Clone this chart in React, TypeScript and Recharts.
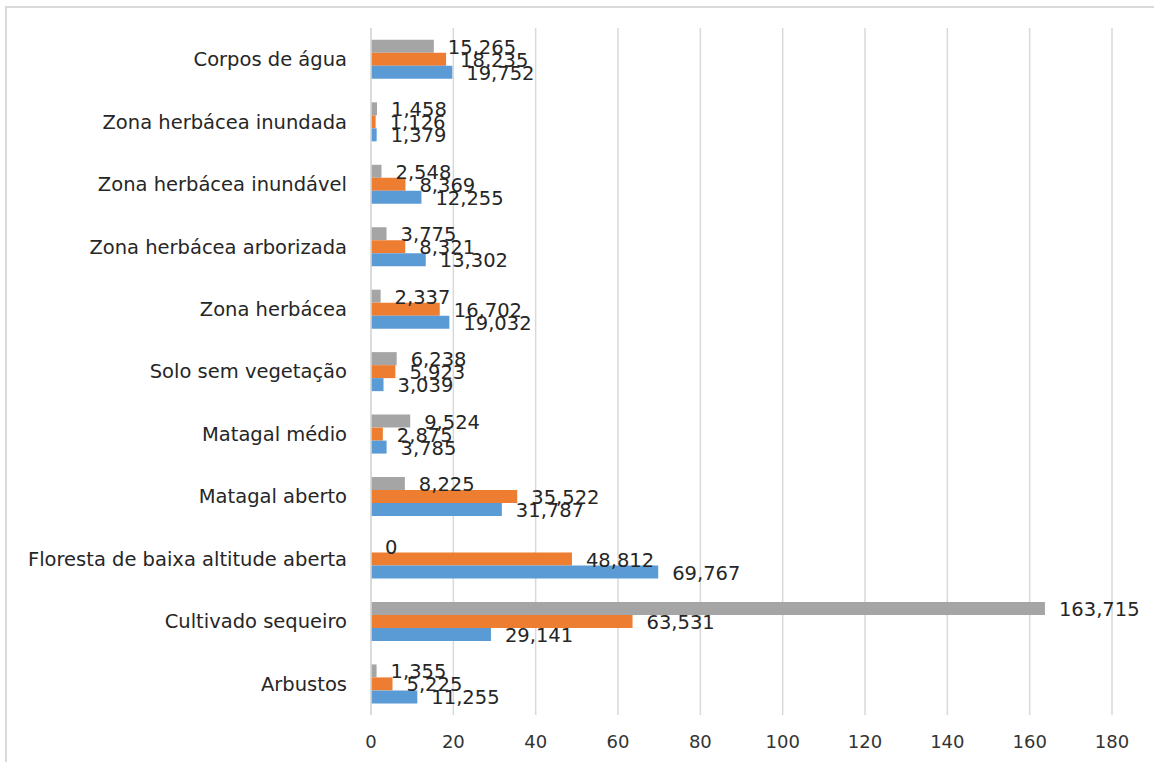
import React from 'react';
import { BarChart, Bar, XAxis, YAxis, CartesianGrid, LabelList } from 'recharts';

const categories = [
    'Corpos de água',
    'Zona herbácea inundada',
    'Zona herbácea inundável',
    'Zona herbácea arborizada',
    'Zona herbácea ',
    'Solo sem vegetação',
    'Matagal médio',
    'Matagal aberto',
    'Floresta de baixa altitude aberta',
    'Cultivado sequeiro',
    'Arbustos',
];

// three series, gray drawn on top of each group, blue at the bottom
const grayValues = [15.265, 1.458, 2.548, 3.775, 2.337, 6.238, 9.524, 8.225, 0, 163.715, 1.355];
const orangeValues = [18.235, 1.126, 8.369, 8.321, 16.702, 5.923, 2.875, 35.522, 48.812, 63.531, 5.225];
const blueValues = [19.752, 1.379, 12.255, 13.302, 19.032, 3.039, 3.785, 31.787, 69.767, 29.141, 11.255];

const xTicks = [0, 20, 40, 60, 80, 100, 120, 140, 160, 180];

const data = categories.map((name, i) => ({
    name,
    gray: grayValues[i],
    orange: orangeValues[i],
    blue: blueValues[i],
}));

const FONT = '"DejaVu Sans", sans-serif';

const fmt = (v: number) => (v === 0 ? '0' : v.toFixed(3).replace('.', ','));

const num = (v: any) => {
    const n = Number(v);
    return Number.isFinite(n) ? n : 0;
};

const ValueLabel = (props: any) => {
    const { x, y, width, height, value } = props;
    return (
        <text
            x={num(x) + num(width) + 14}
            y={num(y) + num(height) / 2 + 2}
            dominantBaseline="middle"
            fontFamily={FONT}
            fontSize={19.5}
            fill="#262626"
        >
            {fmt(num(value))}
        </text>
    );
};

const App = () => {
    return (
        <div style={{ position: 'absolute', left: 0, top: 0, width: 1154, height: 762, background: '#fff' }}>
            <div
                style={{
                    position: 'absolute',
                    left: 5,
                    top: 6,
                    width: 1160,
                    height: 770,
                    border: '2px solid #D9D9D9',
                    boxSizing: 'border-box',
                }}
            />
            <BarChart
                width={1154}
                height={762}
                data={data}
                layout="vertical"
                margin={{ top: 28, right: 42, bottom: 17, left: 0 }}
                barCategoryGap="19%"
                barGap={0}
                style={{ position: 'absolute', left: 0, top: 0 }}
            >
                <CartesianGrid horizontal={false} stroke="#D9D9D9" strokeWidth={1.5} />
                <XAxis
                    type="number"
                    domain={[0, 180]}
                    ticks={xTicks}
                    axisLine={false}
                    tickLine={false}
                    tickMargin={14}
                    tick={{ fontFamily: FONT, fontSize: 18, fill: '#333333' }}
                />
                <YAxis
                    type="category"
                    dataKey="name"
                    width={371}
                    axisLine={{ stroke: '#D9D9D9', strokeWidth: 1.5 }}
                    tickLine={false}
                    tickMargin={18}
                    interval={0}
                    tick={{ fontFamily: FONT, fontSize: 19.5, fill: '#262626' }}
                />
                {/* tiny minPointSize keeps the zero bar (and its "0" label) in the layout */}
                <Bar dataKey="gray" fill="#A5A5A5" minPointSize={0.01} isAnimationActive={false}>
                    <LabelList dataKey="gray" content={ValueLabel} />
                </Bar>
                <Bar dataKey="orange" fill="#ED7D31" isAnimationActive={false}>
                    <LabelList dataKey="orange" content={ValueLabel} />
                </Bar>
                <Bar dataKey="blue" fill="#5B9BD5" isAnimationActive={false}>
                    <LabelList dataKey="blue" content={ValueLabel} />
                </Bar>
            </BarChart>
        </div>
    );
};

export default App;
